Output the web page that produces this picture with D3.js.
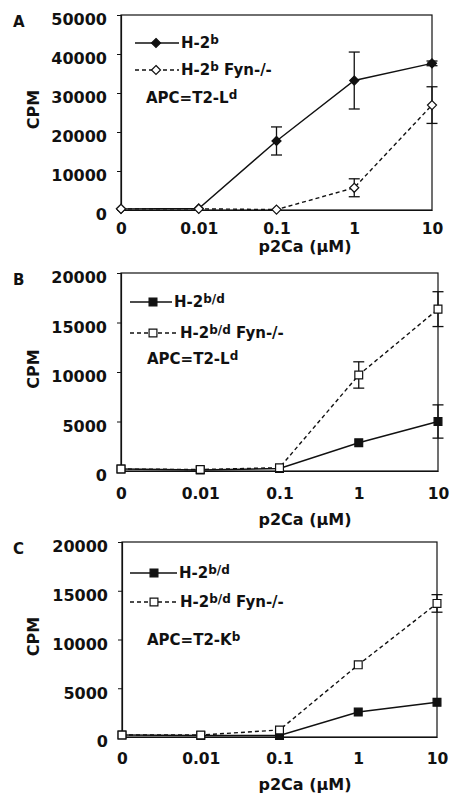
<!DOCTYPE html>
<html>
<head>
<meta charset="utf-8">
<script src="https://cdn.jsdelivr.net/npm/d3@7"></script>
<style>
  body { margin: 0; background: #fff; }
  text { font-family: "DejaVu Sans", Verdana, sans-serif; font-weight: bold; fill: #111; }
</style>
</head>
<body>
<div class="container"></div>
<script>
// Data
const doses = ["0", "0.01", "0.1", "1", "10"]

const ticksA = [0, 10000, 20000, 30000, 40000, 50000]
const ticksBC = [0, 5000, 10000, 15000, 20000]

const wtA = [300, 400, 17700, 33200, 37600]
const wtErrA = [0, 0, 3600, 7300, 600]
const fynA = [300, 300, 100, 5700, 26900]
const fynErrA = [0, 0, 0, 2300, 4700]

const wtB = [200, 100, 250, 2850, 5000]
const wtErrB = [0, 0, 0, 0, 1680]
const fynB = [200, 150, 330, 9700, 16350]
const fynErrB = [0, 0, 0, 1330, 1760]

const wtC = [200, 150, 150, 2560, 3560]
const wtErrC = [0, 0, 0, 0, 0]
const fynC = [200, 200, 720, 7400, 13700]
const fynErrC = [0, 0, 0, 0, 900]

const svg = d3.select(".container")
    .append("svg")
    .attr("width", 454)
    .attr("height", 797)

const panels = [
    {label: "A", left: 121, right: 432, top: 15, bottom: 210, max: 50000, ticks: ticksA,
     xPad: 13, titleY: 42,
     wt: wtA, wtErr: wtErrA, fyn: fynA, fynErr: fynErrA, marker: "diamond",
     name1: ["H-2", "b", ""], name2: ["H-2", "b", " Fyn-/-"], apc: ["APC=T2-L", "d"],
     leg: {y1: 43, y2: 70, x0: 135, mx: 156, tx1: 180, tx2: 180, ax: 146, ay: 103}},
    {label: "B", left: 121, right: 438, top: 273, bottom: 471, max: 20000, ticks: ticksBC,
     xPad: 17, titleY: 54,
     wt: wtB, wtErr: wtErrB, fyn: fynB, fynErr: fynErrB, marker: "square",
     name1: ["H-2", "b/d", ""], name2: ["H-2", "b/d", " Fyn-/-"], apc: ["APC=T2-L", "d"],
     leg: {y1: 302, y2: 333, x0: 130, mx: 153, tx1: 173, tx2: 179, ax: 147, ay: 364}},
    {label: "C", left: 122, right: 437, top: 542, bottom: 737, max: 20000, ticks: ticksBC,
     xPad: 16, titleY: 53,
     wt: wtC, wtErr: wtErrC, fyn: fynC, fynErr: fynErrC, marker: "square",
     name1: ["H-2", "b/d", ""], name2: ["H-2", "b/d", " Fyn-/-"], apc: ["APC=T2-K", "b"],
     leg: {y1: 573, y2: 602, x0: 130, mx: 154, tx1: 178, tx2: 179, ax: 147, ay: 645}}
]

function markerPath(type) {
    if (type === "diamond") return d3.symbol().type(d3.symbolDiamond2).size(52)()
    return d3.symbol().type(d3.symbolSquare2).size(78)()
}

function drawPanel(p) {
    const g = svg.append("g")

    const x = d3.scalePoint()
        .domain(doses)
        .range([p.left, p.right])

    const y = d3.scaleLinear()
        .domain([0, p.max])
        .range([p.bottom, p.top])

    // Frame
    g.append("rect")
        .attr("x", p.left)
        .attr("y", p.top)
        .attr("width", p.right - p.left)
        .attr("height", p.bottom - p.top)
        .attr("fill", "none")
        .attr("stroke", "#111")
        .attr("stroke-width", 1.2)

    // Y axis
    const yAxis = g.append("g")
        .attr("transform", `translate(${p.left},0)`)
        .call(d3.axisLeft(y).tickValues(p.ticks).tickSize(4).tickPadding(10).tickFormat(d3.format("d")))
    yAxis.select(".domain").attr("stroke", "#111").attr("stroke-width", 1.2)
    yAxis.selectAll(".tick line").attr("stroke", "#111")
    yAxis.selectAll("text")
        .attr("font-size", 16)
        .attr("dy", "0.62em")
        .attr("fill", "#111")
        .attr("font-family", null)

    // X axis
    const xAxis = g.append("g")
        .attr("transform", `translate(0,${p.bottom})`)
        .call(d3.axisBottom(x).tickSize(0).tickPadding(p.xPad))
    xAxis.select(".domain").attr("stroke", "#111").attr("stroke-width", 1.2)
    xAxis.selectAll("text")
        .attr("font-size", 15.5)
        .attr("fill", "#111")
        .attr("font-family", null)

    // Axis titles
    g.append("text")
        .attr("x", 305)
        .attr("y", p.bottom + p.titleY)
        .attr("text-anchor", "middle")
        .attr("font-size", 16)
        .text("p2Ca (\u03BCM)")

    g.append("text")
        .attr("transform", `translate(39,${(p.top + p.bottom) / 2 - 3}) rotate(-90)`)
        .attr("text-anchor", "middle")
        .attr("font-size", 16)
        .text("CPM")

    g.append("text")
        .attr("x", 13)
        .attr("y", p.top + 12)
        .attr("font-size", 15)
        .text(p.label)

    // Series
    const series = [
        {vals: p.wt, err: p.wtErr, dash: null, fill: "#111"},
        {vals: p.fyn, err: p.fynErr, dash: "4,3", fill: "#fff"}
    ]

    const line = d3.line()
        .x((d, i) => x(doses[i]))
        .y(d => y(d))

    series.forEach(s => {
        g.append("path")
            .datum(s.vals)
            .attr("d", line)
            .attr("fill", "none")
            .attr("stroke", "#111")
            .attr("stroke-width", 1.4)
            .attr("stroke-dasharray", s.dash)

        const bars = g.selectAll(null)
            .data(s.vals.map((v, i) => ({v: v, e: s.err[i], d: doses[i]})).filter(d => d.e > 0))
            .join("g")
        bars.append("line")
            .attr("x1", d => x(d.d)).attr("x2", d => x(d.d))
            .attr("y1", d => y(d.v + d.e)).attr("y2", d => y(d.v - d.e))
            .attr("stroke", "#111").attr("stroke-width", 1.3)
        bars.append("line")
            .attr("x1", d => x(d.d) - 5.5).attr("x2", d => x(d.d) + 5.5)
            .attr("y1", d => y(d.v + d.e)).attr("y2", d => y(d.v + d.e))
            .attr("stroke", "#111").attr("stroke-width", 1.3)
        bars.append("line")
            .attr("x1", d => x(d.d) - 5.5).attr("x2", d => x(d.d) + 5.5)
            .attr("y1", d => y(d.v - d.e)).attr("y2", d => y(d.v - d.e))
            .attr("stroke", "#111").attr("stroke-width", 1.3)

        g.selectAll(null)
            .data(s.vals)
            .join("path")
            .attr("d", markerPath(p.marker))
            .attr("transform", (d, i) => `translate(${x(doses[i])},${y(d)})`)
            .attr("fill", s.fill)
            .attr("stroke", "#111")
            .attr("stroke-width", 1.2)
    })

    // Legend
    const L = p.leg
    const rows = [
        {y: L.y1, dash: null, fill: "#111", name: p.name1, tx: L.tx1},
        {y: L.y2, dash: "4,3", fill: "#fff", name: p.name2, tx: L.tx2}
    ]
    rows.forEach(r => {
        g.append("line")
            .attr("x1", L.x0).attr("x2", r.tx - 1)
            .attr("y1", r.y).attr("y2", r.y)
            .attr("stroke", "#111").attr("stroke-width", 1.3)
            .attr("stroke-dasharray", r.dash)
        g.append("path")
            .attr("d", markerPath(p.marker))
            .attr("transform", `translate(${L.mx},${r.y})`)
            .attr("fill", r.fill)
            .attr("stroke", "#111")
            .attr("stroke-width", 1.2)
        const t = g.append("text")
            .attr("x", r.tx + 1)
            .attr("y", r.y + 5)
            .attr("font-size", 15)
        t.append("tspan").text(r.name[0])
        t.append("tspan").attr("font-size", 12).attr("dy", -4).text(r.name[1])
        t.append("tspan").attr("dy", 4).text(r.name[2])
    })

    const a = g.append("text")
        .attr("x", L.ax)
        .attr("y", L.ay)
        .attr("font-size", 15)
    a.append("tspan").text(p.apc[0])
    a.append("tspan").attr("font-size", 12).attr("dy", -4).text(p.apc[1])
}

panels.forEach(drawPanel)
</script>
</body>
</html>
